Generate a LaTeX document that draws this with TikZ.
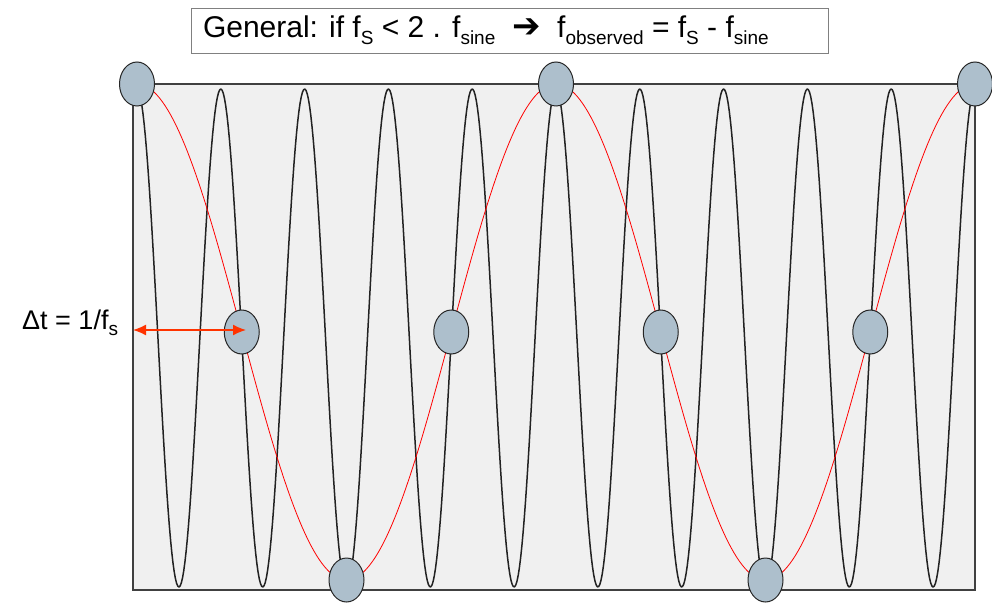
\documentclass[tikz,border=0pt]{standalone}
\usepackage{fontspec}
\setmainfont{Liberation Sans}
\newfontfamily\symfont{DejaVu Sans}
\usetikzlibrary{arrows.meta,shapes.geometric}
\definecolor{rectfill}{HTML}{F0F0F0}
\definecolor{dotfill}{HTML}{ADBFCC}
\definecolor{arrowred}{HTML}{FF3300}
\definecolor{wavegray}{HTML}{222222}
\newcommand{\lsub}[1]{\raisebox{-0.45ex}{\fontsize{19}{19}\selectfont #1}}
\begin{document}
\begin{tikzpicture}[x=1pt,y=-1pt,
  frame/.style={draw=black!75, line width=1.2pt, fill=rectfill, inner sep=0pt, minimum width=842pt, minimum height=506pt},
  titlebox/.style={draw=black!50, line width=0.9pt, fill=white, inner sep=0pt, minimum width=637pt, minimum height=45pt, font=\fontsize{30}{34}\selectfont},
  lbl/.style={inner sep=0pt, font=\fontsize{27}{30}\selectfont},
  sample/.style={ellipse, draw=black!85, line width=1pt, fill=dotfill, minimum width=35pt, minimum height=44pt, inner sep=0pt},
  blackwave/.style={wavegray, line width=1.5pt, line join=round},
  redwave/.style={red, line width=0.8pt},
  dtarrow/.style={arrowred, line width=1.5pt, {Latex[length=13pt,width=11pt]}-{Latex[length=13pt,width=11pt]}}
]
\useasboundingbox (0,0) rectangle (992,609);
\node[frame] (plotarea) at (554,337) {};
\draw[blackwave] plot[domain=137:975, samples=700] (\x, {338-249*cos(4.29594*(\x-137))});
\draw[redwave] plot[domain=137:975, samples=300] (\x, {332-248*cos(0.859189*(\x-137))});
\foreach \i in {0,...,8} {
  \node[sample] (dot\i) at ({137+104.75*\i}, {332-248*cos(90*\i)}) {};
}
\node[titlebox] (title) at (509.5,30.5) {\makebox[637pt][l]{\hspace{12pt}General: if f\lsub{S} < 2 . f\lsub{sine}\ \ {\symfont\fontsize{34}{34}\selectfont ➔}\ \ f\lsub{observed} = f\lsub{S} - f\lsub{sine}}};
\node[lbl, anchor=west] (dtlabel) at (22,323) {Δt = 1/f\lsub{s}};
\coordinate (aleft) at (133,330);
\coordinate (aright) at (246,330);
\draw[dtarrow] (aleft) -- (aright);
\end{tikzpicture}
\end{document}
